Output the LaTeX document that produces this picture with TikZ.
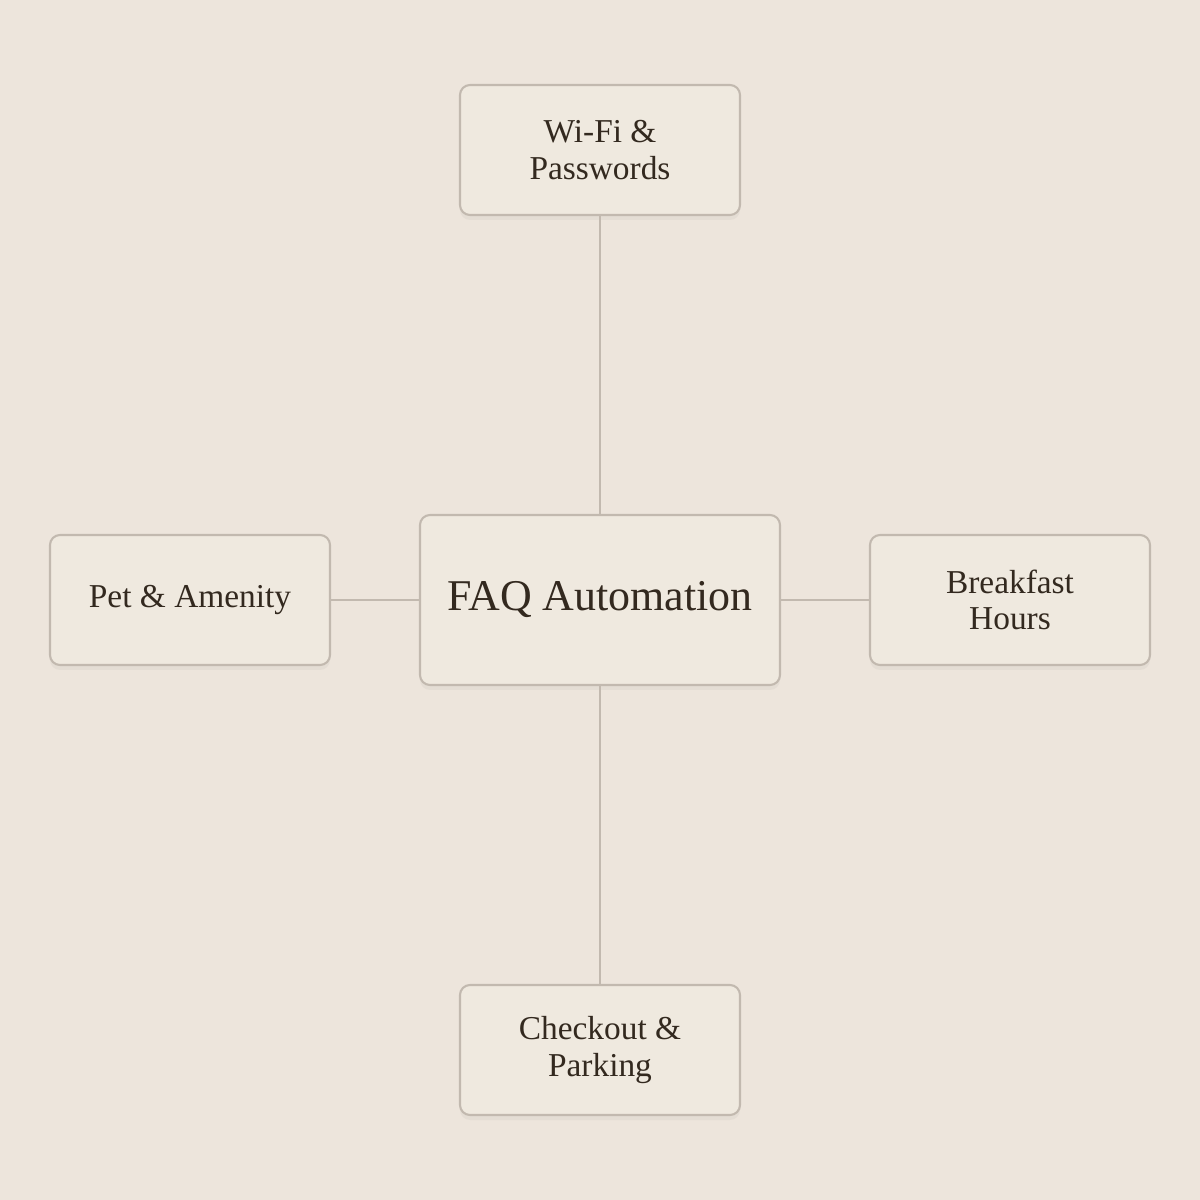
\documentclass[tikz,border=0pt]{standalone}
\usepackage{fontspec}
\setmainfont{Liberation Serif}
\usetikzlibrary{positioning,shadows}
\definecolor{bgcol}{HTML}{EDE5DC}
\definecolor{boxcol}{HTML}{EFE9DF}
\definecolor{edgecol}{HTML}{C2B9AF}
\definecolor{txtcol}{HTML}{33291F}
\tikzset{
  topic/.style={draw=edgecol,fill=boxcol,rounded corners=0.1cm,line width=0.6pt,
    minimum width=2.8cm,minimum height=1.3cm,align=center,text=txtcol,inner sep=1pt,
    font=\fontsize{9.5}{10.4}\selectfont,
    drop shadow={shadow xshift=0pt,shadow yshift=-0.05cm,opacity=0.08}},
  hub/.style={topic,minimum width=3.6cm,minimum height=1.7cm,font=\fontsize{12.5}{14}\selectfont},
  link/.style={draw=edgecol,line width=0.6pt}
}
\begin{document}
\begin{tikzpicture}
\fill[bgcol](0,0)rectangle(12,12);
\useasboundingbox(0,0)rectangle(12,12);
%hub
\node[hub] (faq) at (6,6){FAQ Automation};
%topics
\node[topic] (wifi) at (6,10.5){Wi-Fi \&\\Passwords};
\node[topic] (pet) at (1.9,6){Pet \& Amenity};
\node[topic] (food) at (10.1,6){Breakfast\\Hours};
\node[topic] (out) at (6,1.5){Checkout \&\\Parking};
\draw[link](faq)--(wifi);
\draw[link](faq)--(pet);
\draw[link](faq)--(food);
\draw[link](faq)--(out);
\end{tikzpicture}
\end{document}
